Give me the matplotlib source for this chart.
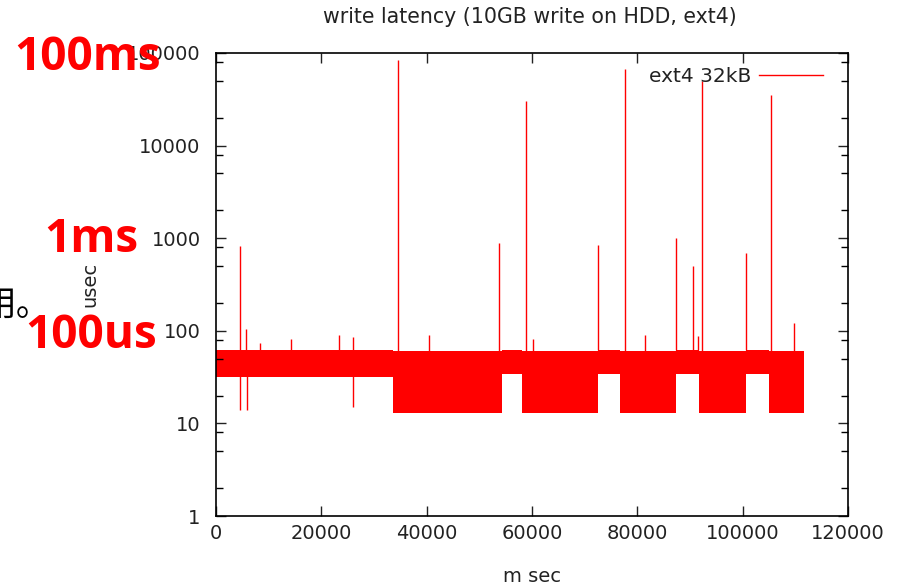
import matplotlib
matplotlib.use("Agg")
import matplotlib.pyplot as plt
from matplotlib.ticker import LogLocator, FixedLocator, NullFormatter

# band envelope (piecewise, ms on x, usec on y)
band_edges = [0, 33600, 54300, 58100, 72500, 76700, 87300, 91700, 100600, 105000, 111600]
band_low = [32, 13, 34, 13, 34, 13, 34, 13, 34, 13]
band_high = [62, 60, 62, 60, 62, 60, 62, 60, 62, 60]

# isolated spikes above the band
spike_x = [4560, 5700, 8350, 14240, 23350, 26000, 34500, 40440, 53700, 58900, 60200,
           72500, 77600, 81450, 87300, 90600, 91500, 92300, 100600, 105400, 109700]
spike_y = [820, 105, 74, 82, 90, 86, 83000, 90, 880, 30000, 81,
           850, 68000, 90, 1000, 500, 87, 50000, 700, 35000, 120]

# dips below the band
dip_x = [4560, 5890, 26000]
dip_y = [14, 14, 15]

xticks = [0, 20000, 40000, 60000, 80000, 100000, 120000]
yticks = [1, 10, 100, 1000, 10000, 100000]

red = "#ff0000"
ink = "#222222"
plt.rcParams["font.family"] = ["DejaVu Sans"]
plt.rcParams["font.size"] = 14

fig = plt.figure(figsize=(8.99, 5.88), dpi=100)
ax = fig.add_axes([216 / 899, 1 - 516 / 588, 632 / 899, 463 / 588])

ax.fill_between(band_edges, band_low + [band_low[-1]], band_high + [band_high[-1]],
                step="post", color=red, linewidth=0, label="_nolegend_")
top_at = lambda x: band_high[max(i for i in range(len(band_high)) if band_edges[i] <= x)]
ax.vlines(spike_x, [top_at(x) for x in spike_x], spike_y, color=red, linewidth=1)
ax.vlines(dip_x, dip_y, [33] * len(dip_x), color=red, linewidth=1)
ax.plot([], [], color=red, linewidth=1, label="ext4 32kB")

ax.set_yscale("log")
ax.set_xlim(0, 120000)
ax.set_ylim(1, 100000)
ax.xaxis.set_major_locator(FixedLocator(xticks))
ax.yaxis.set_major_locator(FixedLocator(yticks))
ax.yaxis.set_minor_locator(LogLocator(base=10, subs=(2, 5, 8)))
ax.yaxis.set_minor_formatter(NullFormatter())
ax.set_xticklabels([str(v) for v in xticks])
ax.set_yticklabels([str(v) for v in yticks])
ax.tick_params(which="both", direction="in", top=True, right=True, color="black")
ax.tick_params(which="major", length=7, width=1)
ax.tick_params(which="minor", length=5, width=1)
ax.tick_params(axis="y", pad=11, colors=ink)
ax.tick_params(axis="x", pad=6, colors=ink)
for s in ax.spines.values():
    s.set_linewidth(1.2)

fig.text(530 / 899, 1 - 17 / 588, "write latency (10GB write on HDD, ext4)",
         fontsize=14.8, color=ink, ha="center", va="center")
ax.set_xlabel("m sec", color=ink)
ax.xaxis.set_label_coords(0.5, -0.11)
ax.set_ylabel("usec", color=ink)
ax.yaxis.set_label_coords(-0.184, 0.501)

ax.legend(loc="upper right", bbox_to_anchor=(0.983, 1.0), frameon=False,
          markerfirst=False, handlelength=3.2, handletextpad=0.35,
          borderaxespad=0.3, fontsize=14.5, labelcolor=ink)

fig.text(14 / 899, 1 - 70 / 588, "100ms", color=red, fontsize=33, fontweight="bold",
         family="Open Sans", va="baseline")
fig.text(44 / 899, 1 - 252 / 588, "1ms", color=red, fontsize=33, fontweight="bold",
         family="Open Sans", va="baseline")
fig.text(25 / 899, 1 - 348 / 588, "100us", color=red, fontsize=33, fontweight="bold",
         family="Open Sans", va="baseline")
fig.text(-18 / 899, 1 - 315 / 588, "用。", color="black", fontsize=25,
         family=["Noto Sans CJK SC", "DejaVu Sans"], va="baseline")

fig.savefig("out.png", dpi=100)
